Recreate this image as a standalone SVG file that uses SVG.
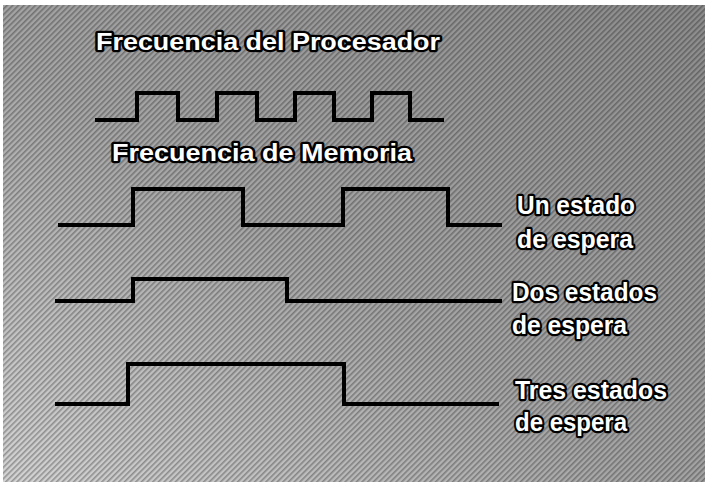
<svg xmlns="http://www.w3.org/2000/svg" width="705" height="486" viewBox="0 0 705 486">
  <defs>
    <linearGradient id="bg" x1="0" y1="1" x2="1" y2="0">
      <stop offset="0" stop-color="#d4d4d4"/>
      <stop offset="0.45" stop-color="#a6a6a6"/>
      <stop offset="1" stop-color="#8c8c8c"/>
    </linearGradient>
    <pattern id="hatch" width="4" height="4" patternUnits="userSpaceOnUse" patternTransform="rotate(45)">
      <rect x="0" y="0" width="1.6" height="4" fill="#000" fill-opacity="0.3"/>
    </pattern>
  </defs>
  <style>
    .wave { fill: none; stroke: #000; stroke-width: 4; stroke-linejoin: miter; stroke-linecap: square; }
    .lbl { font-family: "Liberation Sans", Arial, sans-serif; font-weight: bold; fill: #fff; stroke: #000; stroke-width: 4.5; paint-order: stroke; stroke-linejoin: round; }
    .top { font-size: 23px; }
    .side { font-size: 26px; }
  </style>
  <rect x="0" y="0" width="705" height="486" fill="#fff"/>
  <rect x="3" y="5" width="702" height="477" fill="url(#bg)"/>
  <rect x="3" y="5" width="702" height="477" fill="url(#hatch)"/>

  <g id="label-procesador">
    <text class="lbl top" x="96" y="50" textLength="344" lengthAdjust="spacingAndGlyphs">Frecuencia del Procesador</text>
  </g>
  <g id="wave-procesador">
    <polyline class="wave" points="97,120 137,120 137,93 178,93 178,120 217,120 217,93 257,93 257,120 295,120 295,93 334,93 334,120 372,120 372,93 410,93 410,120 442,120"/>
  </g>

  <g id="label-memoria">
    <text class="lbl top" x="112" y="161" textLength="300" lengthAdjust="spacingAndGlyphs">Frecuencia de Memoria</text>
  </g>
  <g id="wave-un-estado">
    <polyline class="wave" points="60,225 133,225 133,189 243,189 243,225 343,225 343,189 448,189 448,225 500,225"/>
  </g>
  <g id="label-un-estado">
    <text class="lbl side" x="517" y="214" textLength="118" lengthAdjust="spacingAndGlyphs">Un estado</text>
    <text class="lbl side" x="517" y="248" textLength="116" lengthAdjust="spacingAndGlyphs">de espera</text>
  </g>

  <g id="wave-dos-estados">
    <polyline class="wave" points="57,301 133,301 133,279 287,279 287,301 500,301"/>
  </g>
  <g id="label-dos-estados">
    <text class="lbl side" x="512" y="301" textLength="145" lengthAdjust="spacingAndGlyphs">Dos estados</text>
    <text class="lbl side" x="512" y="334" textLength="115" lengthAdjust="spacingAndGlyphs">de espera</text>
  </g>

  <g id="wave-tres-estados">
    <polyline class="wave" points="57,404 128,404 128,364 344,364 344,404 497,404"/>
  </g>
  <g id="label-tres-estados">
    <text class="lbl side" x="515" y="399" textLength="152" lengthAdjust="spacingAndGlyphs">Tres estados</text>
    <text class="lbl side" x="515" y="431" textLength="112" lengthAdjust="spacingAndGlyphs">de espera</text>
  </g>
</svg>
